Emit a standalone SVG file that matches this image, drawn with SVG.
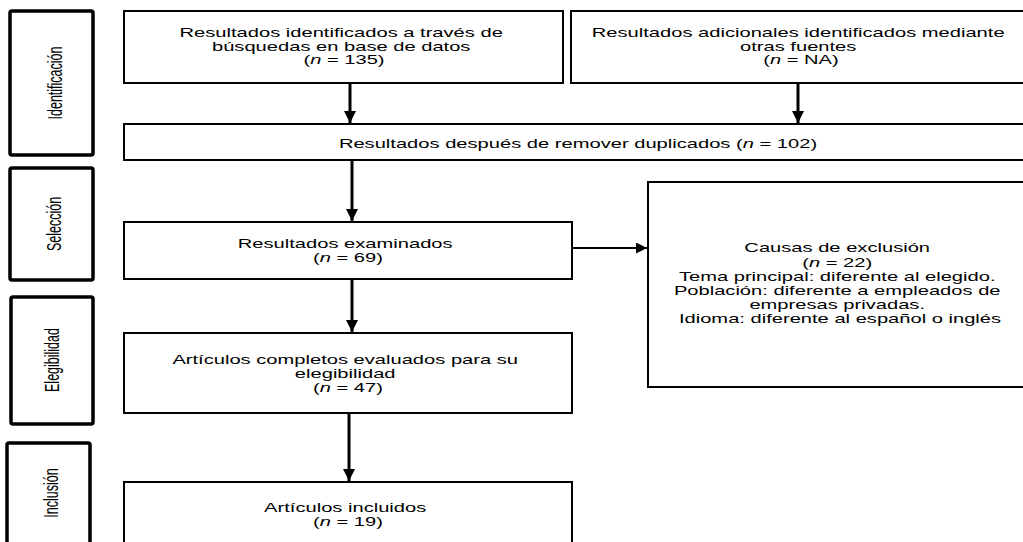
<svg xmlns="http://www.w3.org/2000/svg" width="1023" height="542" viewBox="0 0 1023 542">
<style>
  .side { fill: #fff; stroke: #000; stroke-width: 3.5; }
  .box { fill: #fff; stroke: #000; stroke-width: 2; }
  .t { font-family: "Liberation Sans", Arial, sans-serif; font-size: 12.5px; fill: #000; text-anchor: middle; }
  .i { font-style: italic; }
  .conn { stroke: #000; stroke-width: 3; fill: none; }
  .conn2 { stroke: #000; stroke-width: 2; fill: none; }
</style>
<defs>
  <marker id="ah" viewBox="0 0 10 10" refX="10" refY="5" markerWidth="4" markerHeight="4" markerUnits="strokeWidth" orient="auto">
    <path d="M0,0 L10,5 L0,10 Z" fill="#000"/>
  </marker>
  <marker id="ah2" viewBox="0 0 10 10" refX="10" refY="5" markerWidth="5.5" markerHeight="5.5" markerUnits="strokeWidth" orient="auto">
    <path d="M0,0 L10,5 L0,10 Z" fill="#000"/>
  </marker>
</defs>
<rect width="1023" height="542" fill="#fff"/>

<g id="connectors">
  <line class="conn" x1="350" y1="84" x2="350" y2="123" marker-end="url(#ah)"/>
  <line class="conn" x1="798" y1="84" x2="798" y2="123" marker-end="url(#ah)"/>
  <line class="conn" x1="352" y1="161" x2="352" y2="221" marker-end="url(#ah)"/>
  <line class="conn2" x1="573" y1="248" x2="647" y2="248" marker-end="url(#ah2)"/>
  <line class="conn" x1="352" y1="280" x2="352" y2="332" marker-end="url(#ah)"/>
  <line class="conn" x1="349" y1="414" x2="349" y2="481" marker-end="url(#ah)"/>
</g>

<g id="label-identificacion">
  <rect class="side" x="10" y="11" width="83" height="144" rx="2"/>
  <text class="t" transform="translate(62,83) scale(1.61,1) rotate(-90)">Identificación</text>
</g>
<g id="label-seleccion">
  <rect class="side" x="10" y="168" width="83" height="112" rx="2"/>
  <text class="t" transform="translate(61,224) scale(1.61,1) rotate(-90)">Selección</text>
</g>
<g id="label-elegibilidad">
  <rect class="side" x="11" y="297" width="82" height="127" rx="2"/>
  <text class="t" transform="translate(59,360) scale(1.61,1) rotate(-90)">Elegibilidad</text>
</g>
<g id="label-inclusion">
  <rect class="side" x="7" y="443" width="83" height="120" rx="2"/>
  <text class="t" transform="translate(58,493) scale(1.61,1) rotate(-90)">Inclusión</text>
</g>

<g id="node-bases">
  <rect class="box" x="124" y="11" width="439" height="72"/>
  <text class="t" transform="translate(344,0) scale(1.61,1)">
    <tspan x="0" y="37.5">Resultados identificados a través de</tspan>
    <tspan x="0" y="51">búsquedas en base de datos</tspan>
    <tspan x="0" y="64.5">(<tspan class="i">n</tspan> = 135)</tspan>
  </text>
</g>
<g id="node-otras">
  <rect class="box" x="571" y="11" width="461" height="72"/>
  <text class="t" transform="translate(801,0) scale(1.61,1)">
    <tspan x="0" y="37.5">Resultados adicionales identificados mediante</tspan>
    <tspan x="0" y="51">otras fuentes</tspan>
    <tspan x="0" y="64.5">(<tspan class="i">n</tspan> = NA)</tspan>
  </text>
</g>
<g id="node-duplicados">
  <rect class="box" x="124" y="124" width="908" height="36"/>
  <text class="t" transform="translate(578,148) scale(1.61,1)">Resultados después de remover duplicados (<tspan class="i">n</tspan> = 102)</text>
</g>
<g id="node-examinados">
  <rect class="box" x="124" y="222" width="448" height="57"/>
  <text class="t" transform="translate(348,0) scale(1.61,1)">
    <tspan x="0" y="248.5">Resultados examinados</tspan>
    <tspan x="0" y="262.5">(<tspan class="i">n</tspan> = 69)</tspan>
  </text>
</g>
<g id="node-exclusion">
  <rect class="box" x="648" y="182" width="384" height="205"/>
  <text class="t" transform="translate(840,0) scale(1.61,1)">
    <tspan x="0" y="252.5">Causas de exclusión</tspan>
    <tspan x="0" y="266.7">(<tspan class="i">n</tspan> = 22)</tspan>
    <tspan x="0" y="280.9">Tema principal: diferente al elegido.</tspan>
    <tspan x="0" y="295.1">Población: diferente a empleados de</tspan>
    <tspan x="0" y="309.3">empresas privadas.</tspan>
    <tspan x="0" y="323.5">Idioma: diferente al español o inglés</tspan>
  </text>
</g>
<g id="node-elegibilidad">
  <rect class="box" x="124" y="333" width="448" height="80"/>
  <text class="t" transform="translate(348,0) scale(1.61,1)">
    <tspan x="0" y="364">Artículos completos evaluados para su</tspan>
    <tspan x="0" y="378">elegibilidad</tspan>
    <tspan x="0" y="392">(<tspan class="i">n</tspan> = 47)</tspan>
  </text>
</g>
<g id="node-incluidos">
  <rect class="box" x="124" y="482" width="448" height="80"/>
  <text class="t" transform="translate(348,0) scale(1.61,1)">
    <tspan x="0" y="512">Artículos incluidos</tspan>
    <tspan x="0" y="526">(<tspan class="i">n</tspan> = 19)</tspan>
  </text>
</g>
</svg>
